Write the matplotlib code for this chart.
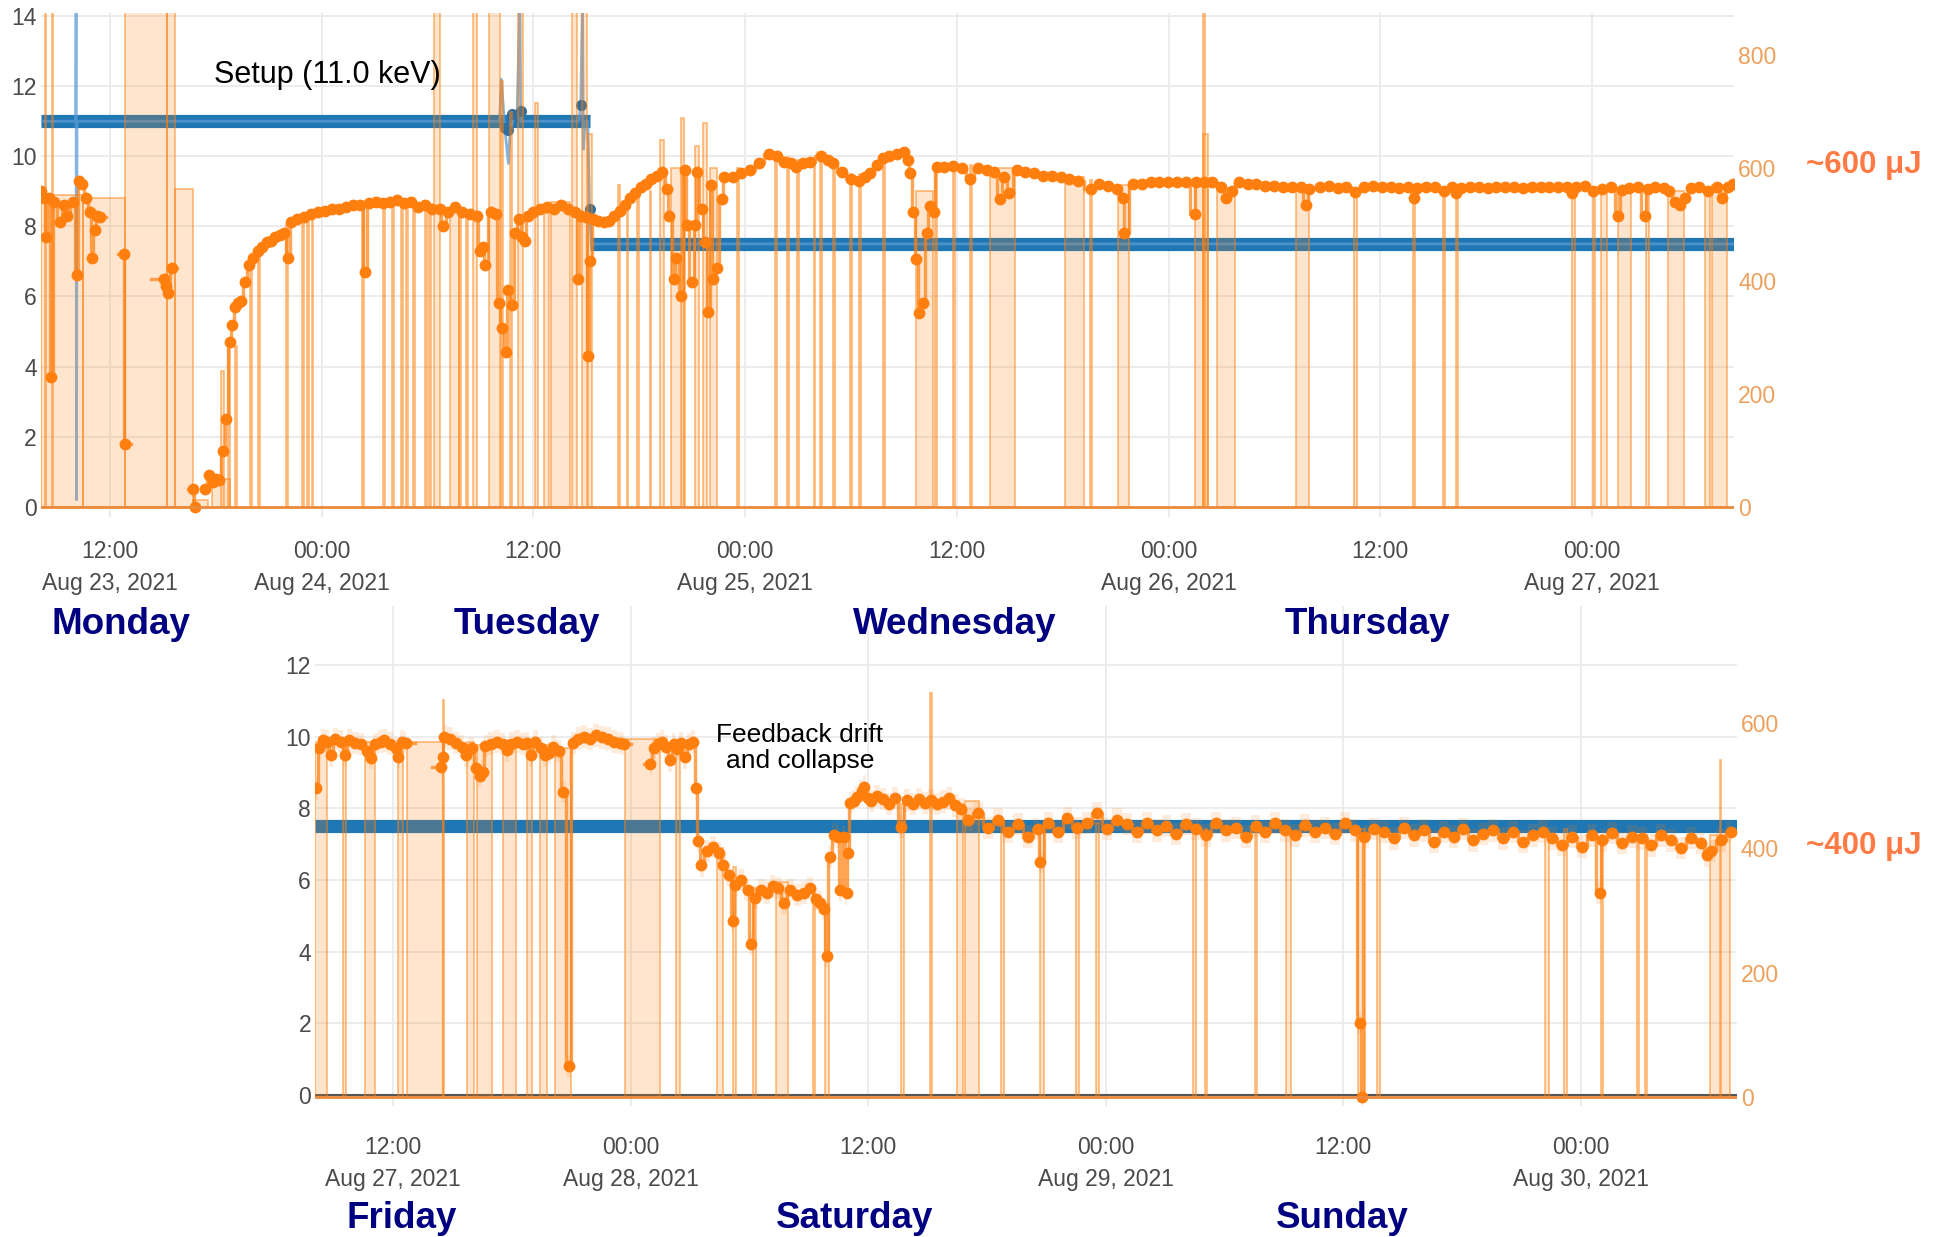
import numpy as np
import pandas as pd
import matplotlib
matplotlib.use('Agg')
import matplotlib.pyplot as plt

plt.rcParams['font.family'] = ['Liberation Sans', 'DejaVu Sans']

# ---------------- data ----------------
# hours counted from the left edge of each panel
top_start = '2021-08-23 08:05'
bot_start = '2021-08-27 08:04'
top_span = 95.97
bot_span = 71.8

top_ticks = ['2021-08-23 12:00', '2021-08-24 00:00', '2021-08-24 12:00', '2021-08-25 00:00',
             '2021-08-25 12:00', '2021-08-26 00:00', '2021-08-26 12:00', '2021-08-27 00:00']
top_tick_labels = ['12:00\nAug 23, 2021', '00:00\nAug 24, 2021', '12:00', '00:00\nAug 25, 2021',
                   '12:00', '00:00\nAug 26, 2021', '12:00', '00:00\nAug 27, 2021']
bot_ticks = ['2021-08-27 12:00', '2021-08-28 00:00', '2021-08-28 12:00', '2021-08-29 00:00',
             '2021-08-29 12:00', '2021-08-30 00:00']
bot_tick_labels = ['12:00\nAug 27, 2021', '00:00\nAug 28, 2021', '12:00', '00:00\nAug 29, 2021',
                   '12:00', '00:00\nAug 30, 2021']

top_kev_ticks = [0, 2, 4, 6, 8, 10, 12, 14]
bot_kev_ticks = [0, 2, 4, 6, 8, 10, 12]
top_uj_ticks = [0, 200, 400, 600, 800]
bot_uj_ticks = [0, 200, 400, 600]

# photon energy setpoint (keV)
top_set_h = [0.0, 31.1, 31.1, 31.15, 95.97]
top_set_kev = [11.0, 11.0, None, 7.5, 7.5]
bot_set_h = [0.0, 71.8]
bot_set_kev = [7.5, 7.5]

# measured photon energy (keV), top panel
top_kev_h = [0.0, 1.98, 2.0, 2.02, 2.05, 26.0, 26.1, 26.3, 26.5, 26.6, 26.8, 27.0, 27.15,
             27.2, 27.3, 30.5, 30.6, 30.7, 30.75, 30.85, 31.0, 31.1, 31.2, 95.97]
top_kev_val = [11.0, 11.0, 14.5, 0.2, 11.0, 11.0, 12.2, 10.8, 9.8, 10.7, 11.1, 11.3, 14.5,
               11.0, 11.0, 11.0, 11.45, 14.5, 10.2, 11.0, 11.0, 8.5, 7.5, 7.5]
top_kev_dot_h = [26.3, 26.5, 26.7, 27.2, 30.6, 31.1]
top_kev_dot_val = [10.8, 10.75, 11.2, 11.3, 11.45, 8.5]

# pulse energy (uJ), top panel
top_h = [
    0.0, 0.2, 0.3, 0.45, 0.6, 0.75, 1.1, 1.3, 1.5, 1.8,
    2.05, 2.15, 2.35, 2.55, 2.8, 2.9, 3.05, 3.2, 3.35, 4.0,
    4.7, 4.75, 5.5, 7.0, 7.1, 7.2, 7.45, 8.0, 8.65, 8.75,
    9.0, 9.3, 9.55, 9.75, 9.95, 10.1, 10.35, 10.5, 10.7, 10.85,
    11.0, 11.2, 11.35, 11.6, 11.8, 12.05, 12.3, 12.55, 12.8, 13.05,
    13.3, 13.55, 13.8, 14.0, 14.2, 14.5, 14.9, 15.3, 15.7, 16.1,
    16.5, 16.9, 17.3, 17.7, 18.1, 18.4, 18.6, 19.0, 19.4, 19.8,
    20.2, 20.6, 21.0, 21.4, 21.8, 22.2, 22.6, 22.8, 23.1, 23.5,
    23.9, 24.3, 24.7, 24.9, 25.05, 25.2, 25.5, 25.8, 25.95, 26.15,
    26.35, 26.5, 26.7, 26.9, 27.1, 27.3, 27.45, 27.6, 27.9, 28.3,
    28.7, 29.1, 29.5, 29.9, 30.3, 30.45, 30.6, 30.9, 31.0, 31.15,
    31.3, 31.6, 31.9, 32.2, 32.5, 32.8, 33.1, 33.4, 33.7, 34.0,
    34.3, 34.6, 34.9, 35.2, 35.5, 35.6, 35.9, 36.0, 36.3, 36.5,
    36.6, 36.9, 37.1, 37.17, 37.45, 37.64, 37.83, 38.0, 38.1, 38.3,
    38.6, 38.7, 39.25, 39.7, 40.2, 40.7, 41.3, 41.7, 42.1, 42.5,
    42.8, 43.2, 43.6, 44.2, 44.6, 44.9, 45.4, 45.9, 46.4, 46.7,
    47.0, 47.4, 47.75, 48.1, 48.5, 48.9, 49.16, 49.26, 49.45, 49.63,
    49.8, 49.99, 50.2, 50.4, 50.6, 50.77, 51.2, 51.7, 52.2, 52.66,
    53.1, 53.6, 54.0, 54.36, 54.6, 54.9, 55.3, 55.8, 56.3, 56.8,
    57.3, 57.8, 58.3, 58.8, 59.5, 60.0, 60.5, 61.0, 61.35, 61.4,
    61.9, 62.4, 62.9, 63.4, 63.9, 64.4, 64.9, 65.4, 65.45, 65.9,
    66.4, 66.9, 67.2, 67.5, 67.9, 68.4, 68.9, 69.4, 69.9, 70.4,
    70.9, 71.4, 71.7, 71.9, 72.5, 73.0, 73.5, 74.0, 74.5, 75.0,
    75.5, 76.0, 76.5, 77.0, 77.5, 77.8, 78.0, 78.5, 79.0, 79.5,
    80.0, 80.2, 80.5, 81.0, 81.5, 82.0, 82.5, 83.0, 83.5, 84.0,
    84.5, 85.0, 85.5, 86.0, 86.5, 86.8, 87.0, 87.5, 88.0, 88.5,
    89.0, 89.4, 89.6, 90.0, 90.5, 90.9, 91.1, 91.5, 92.0, 92.3,
    92.6, 92.9, 93.2, 93.5, 94.0, 94.5, 95.0, 95.3, 95.6, 95.9,
]
top_uj = [
    559, 547, 479, 547, 230, 541, 504, 535, 516, 541,
    410, 578, 572, 547, 522, 441, 491, 516, 513, None,
    448, 112, None, 404, 392, 379, 423, None, 31, 0,
    None, 31, 56, 44, 50, 47, 99, 155, 292, 323,
    354, 361, 364, 398, 429, 441, 454, 460, 469, 472,
    479, 482, 485, 441, 504, 510, 513, 519, 522, 525,
    528, 528, 532, 535, 535, 417, 538, 541, 538, 541,
    544, 538, 541, 532, 535, 528, 528, 497, 522, 532,
    522, 519, 516, 454, 460, 429, 522, 519, 361, 317,
    274, 385, 357, 485, 510, 479, 472, 516, 522, 528,
    532, 528, 535, 528, 522, 404, 516, 513, 267, 435,
    510, 507, 504, 507, 516, 525, 535, 547, 556, 566,
    572, 581, 587, 594, 563, 516, 404, 441, 373, 597,
    500, 398, 500, 594, 528, 469, 345, 570, 404, 423,
    546, 584, 584, 591, 597, 609, 625, 622, 612, 609,
    603, 609, 612, 622, 615, 609, 594, 581, 578, 584,
    591, 606, 618, 622, 625, 629, 615, 591, 522, 440,
    344, 361, 485, 533, 522, 602, 603, 604, 600, 581,
    600, 597, 594, 545, 584, 556, 597, 594, 591, 587,
    587, 584, 581, 578, 563, 572, 569, 563, 548, 485,
    572, 573, 575, 575, 575, 575, 575, 519, 575, 575,
    575, 566, 547, 559, 575, 572, 572, 569, 569, 567,
    566, 566, 535, 563, 566, 568, 565, 567, 558, 567,
    568, 566, 567, 565, 566, 547, 565, 567, 566, 560,
    566, 556, 565, 567, 566, 565, 566, 567, 566, 565,
    566, 567, 566, 567, 566, 556, 567, 568, 560, 563,
    566, 515, 562, 565, 566, 515, 563, 566, 565, 560,
    541, 535, 548, 565, 566, 560, 566, 547, 566, 572,
]

# pulse-energy dropouts / spikes, top panel: start (h), width (h), top (uJ)
top_drop_start = [
    0.0, 0.24, 0.62, 2.4, 4.8, 7.15, 7.6, 8.6, 9.7, 10.2,
    10.6, 11.0, 11.85, 12.3, 13.9, 14.8, 15.1, 15.35, 18.2, 19.4,
    19.9, 20.4, 20.7, 21.1, 21.8, 22.0, 22.3, 23.2, 23.7, 24.1,
    24.5, 25.4, 26.1, 26.6, 27.05, 28.0, 28.5, 28.9, 30.1, 30.65,
    31.0, 32.7, 33.2, 33.8, 34.5, 35.1, 35.7, 36.3, 37.1, 37.55,
    37.9, 39.45, 41.6, 42.3, 42.85, 43.8, 44.15, 44.9, 45.85, 46.4,
    47.75, 49.6, 50.7, 51.7, 52.65, 53.8, 58.05, 59.45, 61.05, 65.4,
    65.85, 65.85, 66.65, 71.15, 74.45, 77.75, 79.45, 80.2, 86.8, 87.95,
    88.45, 89.4, 91.0, 92.2, 94.3, 94.7,
]
top_drop_width = [
    2.4, 0.08, 0.06, 2.4, 2.35, 0.45, 1.0, 0.9, 1.0, 0.2,
    0.12, 0.1, 0.1, 0.12, 0.1, 0.1, 0.1, 0.1, 0.1, 0.12,
    0.1, 0.1, 0.1, 0.1, 0.1, 0.1, 0.35, 0.5, 0.1, 0.1,
    0.2, 0.65, 0.1, 0.1, 0.3, 0.2, 0.3, 1.1, 0.3, 0.3,
    0.25, 0.12, 0.1, 0.08, 0.1, 0.2, 0.8, 0.15, 0.2, 0.2,
    0.4, 0.1, 0.1, 0.12, 0.1, 0.1, 0.1, 0.1, 0.12, 0.1,
    0.1, 0.95, 0.1, 0.1, 0.12, 1.4, 1.05, 0.1, 0.6, 0.75,
    0.12, 0.3, 1.05, 0.75, 0.15, 0.15, 0.12, 0.15, 0.15, 0.12,
    0.3, 0.75, 0.12, 0.95, 0.3, 0.85,
]
top_drop_top = [
    553, 880, 880, 548, 880, 880, 563, 12, 50, 240,
    290, 285, 440, 460, 500, 510, 510, 515, 530, 540,
    540, 540, 540, 535, 530, 530, 880, 525, 530, 525,
    880, 880, 755, 700, 880, 715, 520, 540, 880, 880,
    660, 570, 540, 545, 560, 650, 600, 690, 640, 680,
    600, 600, 615, 620, 615, 610, 612, 610, 590, 590,
    610, 560, 600, 605, 605, 600, 585, 580, 570, 570,
    880, 660, 565, 565, 565, 565, 565, 565, 565, 565,
    565, 565, 565, 560, 565, 570,
]

# pulse energy (uJ), bottom panel
bot_h = [
    0.05, 0.2, 0.4, 0.6, 0.8, 1.0, 1.3, 1.5, 1.7, 2.0,
    2.3, 2.6, 2.8, 3.0, 3.3, 3.5, 3.8, 4.1, 4.2, 4.4,
    4.6, 5.5, 6.35, 6.45, 6.5, 6.8, 7.1, 7.4, 7.6, 7.9,
    8.1, 8.3, 8.5, 8.6, 8.9, 9.2, 9.5, 9.7, 9.9, 10.2,
    10.5, 10.7, 10.9, 11.1, 11.4, 11.6, 11.8, 12.0, 12.3, 12.5,
    12.8, 13.0, 13.3, 13.6, 13.9, 14.2, 14.5, 14.8, 15.1, 15.4,
    15.6, 16.3, 16.9, 17.1, 17.3, 17.5, 17.7, 17.9, 18.1, 18.3,
    18.5, 18.7, 18.9, 19.1, 19.25, 19.35, 19.5, 19.8, 20.1, 20.4,
    20.6, 20.9, 21.1, 21.2, 21.5, 21.85, 22.0, 22.2, 22.5, 22.8,
    23.1, 23.4, 23.7, 24.0, 24.35, 24.7, 25.0, 25.3, 25.5, 25.7,
    25.84, 26.0, 26.2, 26.4, 26.5, 26.7, 26.85, 26.9, 27.0, 27.2,
    27.35, 27.6, 27.7, 27.9, 28.1, 28.4, 28.7, 29.0, 29.3, 29.6,
    29.9, 30.2, 30.5, 30.8, 31.1, 31.4, 31.7, 32.0, 32.3, 32.6,
    33.0, 33.5, 34.0, 34.5, 35.0, 35.5, 36.0, 36.5, 36.6, 37.0,
    37.5, 38.0, 38.5, 39.0, 39.5, 40.0, 40.5, 41.0, 41.5, 42.0,
    42.5, 43.0, 43.5, 44.0, 44.5, 45.0, 45.5, 46.0, 46.5, 47.0,
    47.5, 48.0, 48.5, 49.0, 49.5, 50.0, 50.5, 51.0, 51.5, 52.0,
    52.5, 52.8, 52.9, 53.0, 53.5, 54.0, 54.5, 55.0, 55.5, 56.0,
    56.5, 57.0, 57.5, 58.0, 58.5, 59.0, 59.5, 60.0, 60.5, 61.0,
    61.5, 62.0, 62.5, 63.0, 63.5, 64.0, 64.5, 64.9, 65.0, 65.5,
    66.0, 66.5, 67.0, 67.5, 68.0, 68.5, 69.0, 69.5, 70.0, 70.3,
    70.5, 71.0, 71.5,
]
bot_uj = [
    495, 560, 572, 570, 548, 574, 570, 548, 572, 568,
    566, 555, 544, 566, 570, 572, 567, 560, 546, 570,
    568, None, 530, 545, 578, 575, 568, 562, 548, 560,
    528, 515, 522, 563, 567, 570, 566, 556, 567, 570,
    566, 568, 548, 570, 560, 548, 552, 562, 555, 489,
    50, 568, 575, 578, 574, 580, 577, 575, 570, 568,
    566, None, 535, 560, 566, 570, 562, 540, 566, 558,
    568, 545, 566, 570, 495, 411, 372, 395, 401, 391,
    372, 356, 282, 340, 348, 332, 246, 320, 332, 328,
    338, 336, 312, 332, 324, 328, 336, 318, 312, 302,
    227, 385, 421, 418, 333, 417, 327, 391, 472, 475,
    481, 491, 498, 480, 475, 483, 478, 470, 480, 434,
    476, 470, 478, 472, 476, 470, 474, 479, 468, 462,
    445, 455, 432, 445, 425, 438, 418, 430, 377, 440,
    425, 448, 432, 440, 455, 430, 445, 438, 425, 440,
    428, 435, 422, 438, 430, 420, 440, 428, 432, 418,
    435, 425, 440, 428, 420, 436, 426, 432, 422, 440,
    428, 119, 0, 418, 430, 425, 415, 432, 420, 428,
    410, 425, 418, 430, 412, 422, 428, 415, 425, 410,
    420, 426, 415, 405, 418, 402, 420, 328, 412, 424,
    408, 418, 415, 404, 420, 412, 400, 416, 408, 388,
    395, 412, 425,
]

bot_drop_start = [
    0.0, 1.42, 2.52, 4.2, 4.62, 6.45, 7.65, 8.16, 9.5, 10.7,
    11.35, 12.1, 15.65, 18.25, 20.3, 21.1, 22.1, 23.3, 25.15, 25.75,
    29.6, 31.05, 32.4, 32.8, 34.65, 36.6, 38.45, 39.45, 44.35, 44.95,
    47.45, 49.05, 52.7, 53.65, 62.1, 63.1, 64.95, 66.75, 67.15, 70.45,
    70.95,
]
bot_drop_width = [
    0.6, 0.15, 0.5, 0.25, 1.85, 0.06, 0.35, 0.75, 0.65, 0.25,
    0.35, 0.8, 1.75, 0.18, 0.3, 0.15, 0.15, 0.6, 0.12, 0.2,
    0.15, 0.1, 0.3, 0.75, 0.12, 0.2, 0.12, 0.12, 0.12, 0.12,
    0.12, 0.25, 0.35, 0.12, 0.2, 0.12, 0.12, 0.12, 0.12, 1.0,
    0.05,
]
bot_drop_top = [
    570, 570, 570, 570, 570, 637, 570, 565, 570, 570,
    565, 560, 575, 560, 400, 370, 335, 345, 335, 310,
    470, 648, 470, 475, 440, 430, 440, 440, 430, 430,
    425, 425, 430, 425, 420, 430, 420, 420, 420, 420,
    541,
]

top_days = ['Monday', 'Tuesday', 'Wednesday', 'Thursday']
bot_days = ['Friday', 'Saturday', 'Sunday']

# ---------------- drawing ----------------
W, H = 1938, 1237
ORANGE = '#ff7f0e'
BLUE = '#1f77b4'
fig = plt.figure(figsize=(W / 100, H / 100), dpi=100)


def axes_px(l, t, r, b):
    return fig.add_axes([l / W, 1 - b / H, (r - l) / W, (b - t) / H])


def text_px(x, y, s, **kw):
    fig.text(x / W, 1 - y / H, s, ha='center', va='center', **kw)


def hours(ticks, start):
    return list((pd.to_datetime(ticks) - pd.Timestamp(start)) / pd.Timedelta(hours=1))


def panel(ax, span, kev_ticks, kev_lim, uj_ticks, uj_lim, set_h, set_kev,
          t, uj, band, d_start, d_width, d_top, ticks, labels, xpad):
    ax.set_xlim(0, span)
    ax.set_ylim(*kev_lim)
    ax.set_yticks(kev_ticks)
    ax.set_xticks(ticks)
    ax.set_xticklabels(labels, linespacing=1.5)
    ax.grid(True, color='#ebebeb', lw=1.3)
    ax.set_axisbelow(True)
    ax.tick_params(axis='x', length=0, pad=xpad, labelsize=16.5, labelcolor='#4a4a4a')
    ax.tick_params(axis='y', length=0, pad=3, labelsize=16.5, labelcolor='#4a4a4a')
    for s in ax.spines.values():
        s.set_visible(False)
    ax.plot(set_h, np.array(set_kev, dtype=float), color=BLUE, lw=9.5,
            solid_capstyle='butt', zorder=3)

    ax2 = ax.twinx()
    ax2.set_ylim(*uj_lim)
    ax2.set_yticks(uj_ticks)
    ax2.tick_params(axis='y', length=0, pad=3, labelsize=16.5, labelcolor='#eda05c')
    for s in ax2.spines.values():
        s.set_visible(False)

    ax2.bar(d_start, d_top, width=d_width, align='edge',
            color=(1.0, 0.5, 0.05, 0.2), edgecolor=(1.0, 0.5, 0.05, 0.5), linewidth=1.3)
    t = np.array(t, dtype=float)
    v = np.array(uj, dtype=float)
    ax2.fill_between(t, v - band, v + band, step='mid', color=ORANGE, alpha=0.15, lw=0)
    ax2.plot(t, v, drawstyle='steps-mid', color=ORANGE, alpha=0.7, lw=2.4)
    ax2.plot(t, v, 'o', color=ORANGE, ms=8.5, mec='none')
    ax2.axhline(0, color='#ea8a3c', lw=2)
    return ax2


ax_top = axes_px(40.8, 12.6, 1734.1, 517.3)
ax_top.plot(top_kev_h, top_kev_val, color='#5b9bd5', lw=2, alpha=0.75, zorder=4)
ax_top.plot(top_kev_dot_h, top_kev_dot_val, 'o', color='#2f6f9f', ms=8, mec='none', zorder=4)
panel(ax_top, top_span, top_kev_ticks, (-0.3, 14.1), top_uj_ticks, (-18.6, 876),
      top_set_h, top_set_kev, top_h, top_uj, 8,
      top_drop_start, top_drop_width, top_drop_top,
      hours(top_ticks, top_start), top_tick_labels, 16)

ax_bot = axes_px(315.2, 605.6, 1736.6, 1105.9)
ax_bot.axhline(0, color='#555555', lw=1.5, zorder=2)
panel(ax_bot, bot_span, bot_kev_ticks, (-0.3, 13.66), bot_uj_ticks, (-13.5, 788),
      bot_set_h, bot_set_kev, bot_h, bot_uj, 18,
      bot_drop_start, bot_drop_width, bot_drop_top,
      hours(bot_ticks, bot_start), bot_tick_labels, 22)

# day names
for name, x in zip(top_days, [121, 527, 955, 1367]):
    text_px(x, 624, name, fontsize=26.5, fontweight='bold', color='#000080')
for name, x in zip(bot_days, [402, 855, 1342]):
    text_px(x, 1219, name, fontsize=26.5, fontweight='bold', color='#000080')

text_px(1864, 165, '~600 μJ', fontsize=22.5, fontweight='bold', color='#ff7a45')
text_px(1864, 846, '~400 μJ', fontsize=22.5, fontweight='bold', color='#ff7a45')
text_px(327, 75, 'Setup (11.0 keV)', fontsize=22, color='black')
text_px(800, 748, 'Feedback drift\nand collapse', fontsize=19, color='black', linespacing=1.1)

fig.savefig('out.png', dpi=100)
